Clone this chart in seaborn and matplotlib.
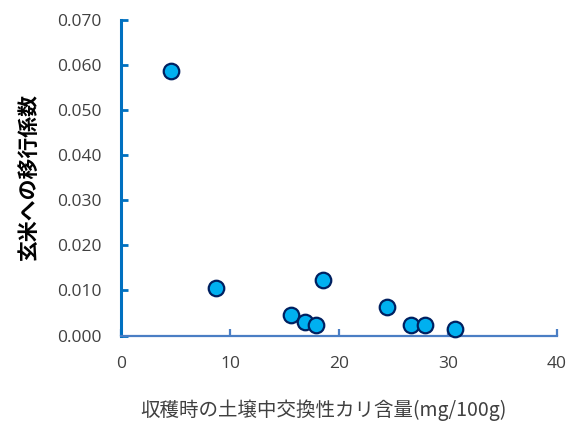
import matplotlib
matplotlib.use("Agg")
import matplotlib.pyplot as plt
import seaborn as sns
import pandas as pd

# Exchangeable potassium in soil at harvest (mg/100g) vs. transfer factor to brown rice
potassium = [4.6, 8.7, 18.5, 15.6, 16.9, 17.9, 24.4, 26.6, 27.9, 30.6]
transfer = [0.0587, 0.0106, 0.0123, 0.0046, 0.0029, 0.0023, 0.0064, 0.0023, 0.0023, 0.0015]

x_ticks = [0, 10, 20, 30, 40]
y_ticks = [0.000, 0.010, 0.020, 0.030, 0.040, 0.050, 0.060, 0.070]

df = pd.DataFrame({"k": potassium, "tf": transfer})

sns.set_theme(style="white")
plt.rcParams["font.family"] = ["Noto Sans CJK JP", "DejaVu Sans"]

fig = plt.figure(figsize=(5.74, 4.22), dpi=100)
ax = fig.add_axes([121 / 574, 1 - 335.5 / 422, 436 / 574, 315.5 / 422])

sns.scatterplot(data=df, x="k", y="tf", ax=ax, s=125,
                color="#00B0F0", edgecolor="#002060", linewidth=1.6,
                zorder=3, clip_on=False)

ax.set_xlim(0, 40)
ax.set_ylim(0, 0.070)
ax.set_xticks(x_ticks)
ax.set_yticks(y_ticks)
ax.set_xticklabels([str(v) for v in x_ticks], family="Open Sans", fontsize=12.5, color="#404040")
ax.set_yticklabels([f"{v:.3f}" for v in y_ticks], family="Open Sans", fontsize=12.5, color="#404040")

for side in ("top", "right"):
    ax.spines[side].set_visible(False)
ax.spines["left"].set_color("#0070C0")
ax.spines["left"].set_linewidth(2.2)
ax.spines["bottom"].set_color("#4A7EC4")
ax.spines["bottom"].set_linewidth(1.6)

ax.tick_params(axis="y", direction="in", length=5, width=2.0, color="#0070C0", pad=14, left=True)
ax.tick_params(axis="x", direction="in", length=5, width=1.6, color="#4A7EC4", pad=15, bottom=True)

ax.set_xlabel("収穫時の土壌中交換性カリ含量(mg/100g)", fontsize=14, color="#404040",
              fontweight="normal", va="center")
ax.set_ylabel("玄米への移行係数", fontsize=15, color="black", fontweight="bold", va="center")
ax.xaxis.set_label_coords(0.464, -0.236)
ax.yaxis.set_label_coords(-0.213, 0.504)

fig.savefig("out.png", dpi=100)
